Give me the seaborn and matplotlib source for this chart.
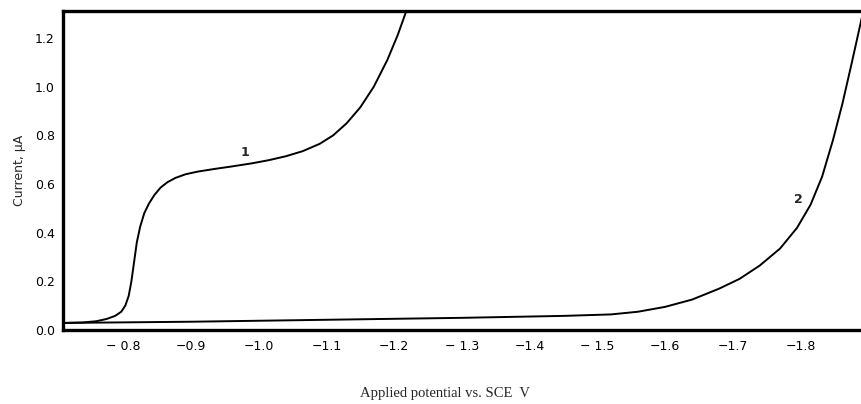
import matplotlib
matplotlib.use("Agg")
import matplotlib.pyplot as plt
import seaborn as sns
import pandas as pd

# Curve 1
c1_x = [-0.711, -0.740, -0.760, -0.775, -0.788, -0.797, -0.803, -0.808, -0.812, -0.816,
        -0.820, -0.825, -0.831, -0.838, -0.846, -0.855, -0.865, -0.877, -0.892, -0.910,
        -0.935, -0.960, -0.990, -1.015, -1.040, -1.065, -1.090, -1.110, -1.130, -1.150,
        -1.170, -1.190, -1.205, -1.218]
c1_y = [0.029, 0.031, 0.036, 0.045, 0.058, 0.075, 0.100, 0.140, 0.200, 0.280,
        0.360, 0.425, 0.480, 0.520, 0.555, 0.585, 0.607, 0.625, 0.640, 0.651,
        0.662, 0.672, 0.685, 0.698, 0.714, 0.735, 0.765, 0.800, 0.850, 0.915,
        1.000, 1.110, 1.210, 1.311]
# Curve 2
c2_x = [-0.711, -0.900, -1.100, -1.300, -1.450, -1.520, -1.560, -1.600, -1.640, -1.680,
        -1.710, -1.740, -1.770, -1.795, -1.815, -1.832, -1.848, -1.862, -1.876, -1.892]
c2_y = [0.029, 0.034, 0.042, 0.050, 0.058, 0.064, 0.075, 0.095, 0.125, 0.170,
        0.210, 0.265, 0.335, 0.420, 0.515, 0.630, 0.780, 0.930, 1.100, 1.300]

x_ticks = [-0.8, -0.9, -1.0, -1.1, -1.2, -1.3, -1.4, -1.5, -1.6, -1.7, -1.8]
x_tick_labels = ["− 0.8", "−0.9", "−1.0", "−1.1", "−1.2", "− 1.3", "−1.4", "− 1.5",
                 "−1.6", "−1.7", "−1.8"]
y_ticks = [0.0, 0.2, 0.4, 0.6, 0.8, 1.0, 1.2]
y_tick_labels = ["0.0", "0.2", "0.4", "0.6", "0.8", "1.0", "1.2"]

sns.set_style("white")
plt.rcParams['font.family'] = ['DejaVu Sans']

fig = plt.figure(figsize=(8.61, 4.04), dpi=100)
ax = fig.add_axes([63 / 861, 1 - 330 / 404, 1 - 63 / 861 + 0.002, (330 - 11) / 404])

d1 = pd.DataFrame({"x": c1_x, "y": c1_y})
d2 = pd.DataFrame({"x": c2_x, "y": c2_y})
sns.lineplot(data=d1, x="x", y="y", ax=ax, color="black", linewidth=1.4, sort=False,
             estimator=None)
sns.lineplot(data=d2, x="x", y="y", ax=ax, color="black", linewidth=1.4, sort=False,
             estimator=None)

ax.set_xlim(-0.711, -1.892)
ax.set_ylim(0, 1.311)
ax.set_xticks(x_ticks)
ax.set_xticklabels(x_tick_labels, fontsize=9)
ax.set_yticks(y_ticks)
ax.set_yticklabels(y_tick_labels, fontsize=9)
ax.tick_params(direction="in", length=6, width=1.3, pad=6, colors="black")
ax.tick_params(axis="x", pad=7)
for s in ["left", "bottom", "top"]:
    ax.spines[s].set_visible(True)
    ax.spines[s].set_linewidth(2.4)
    ax.spines[s].set_color("black")
ax.spines["right"].set_visible(False)

ax.set_xlabel("")
ax.set_ylabel("Current, μA", fontsize=9, labelpad=6)

ax.text(-0.98, 0.73, "1", fontsize=9, ha="center", va="center", fontweight="bold")
ax.text(-1.797, 0.535, "2", fontsize=9, ha="center", va="center", fontweight="bold")

fig.text(445 / 861, 1 - 393 / 404, "Applied potential vs. SCE  V", ha="center", va="center",
         fontsize=10.5, family="Liberation Serif")

fig.savefig("out.png", dpi=100)
